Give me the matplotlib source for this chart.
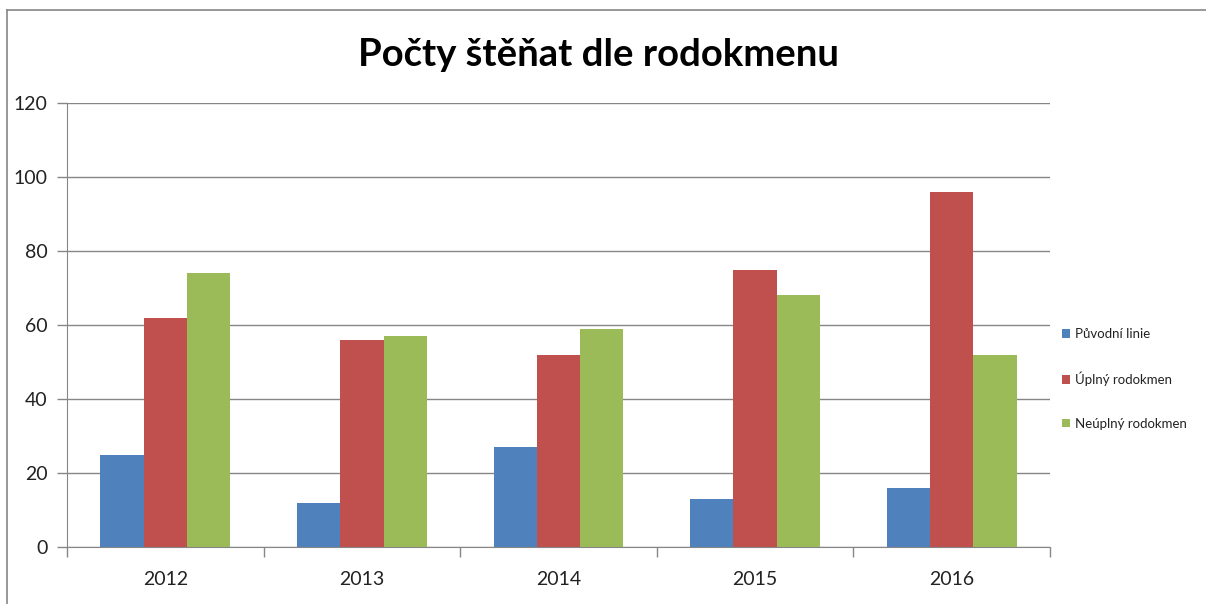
import matplotlib
matplotlib.use("Agg")
import matplotlib.pyplot as plt
import numpy as np
from matplotlib.lines import Line2D

years = ["2012", "2013", "2014", "2015", "2016"]
puvodni = [25, 12, 27, 13, 16]
uplny = [62, 56, 52, 75, 96]
neuplny = [74, 57, 59, 68, 52]
series_names = ["Původní linie", "Úplný rodokmen", "Neúplný rodokmen"]
colors = ["#4F81BD", "#C0504D", "#9BBB59"]
yticks = [0, 20, 40, 60, 80, 100, 120]

plt.rcParams['font.family'] = ['Lato', 'DejaVu Sans']

W, H = 1206, 604
fig = plt.figure(figsize=(W / 100, H / 100), dpi=100)
ax = fig.add_axes([67 / W, (H - 547) / H, (1050 - 67) / W, (547 - 103) / H])

x = np.arange(len(years))
bw = 0.22
for i, (vals, name, c) in enumerate(zip([puvodni, uplny, neuplny], series_names, colors)):
    ax.bar(x + (i - 1) * bw, vals, width=bw, color=c, label=name, zorder=3,
           edgecolor='none')

ax.set_xlim(-0.5, len(years) - 0.5)
ax.set_ylim(0, 120)
ax.set_yticks(yticks)
ax.set_yticklabels([str(v) for v in yticks], fontsize=14, color='#222222')
ax.set_xticks(x)
ax.set_xticklabels(years, fontsize=14, color='#222222')
ax.tick_params(axis='x', length=0, pad=17)
ax.tick_params(axis='y', length=7, color='#868686', width=1, pad=7)
# category boundary ticks
ax.set_xticks(np.arange(-0.5, len(years)), minor=True)
ax.tick_params(axis='x', which='minor', length=7, color='#868686', width=1, direction='out')

ax.grid(axis='y', color='#868686', linewidth=1, zorder=0)
for s in ['top', 'right']:
    ax.spines[s].set_visible(False)
ax.spines['left'].set_color('#868686')
ax.spines['bottom'].set_color('#868686')
ax.spines['left'].set_zorder(4)
ax.spines['bottom'].set_zorder(4)

fig.text(598 / W, 1 - 55 / H, "Počty štěňat dle rodokmenu", ha='center', va='center',
         fontsize=27.5, fontweight='bold', color='black')

leg = ax.legend(loc='center left', bbox_to_anchor=(1050 / W, 1 - 379 / H),
                bbox_transform=fig.transFigure, frameon=False, fontsize=9.5,
                handlelength=0.6, handleheight=0.6, handletextpad=0.4, labelspacing=2.4)
for t in leg.get_texts():
    t.set_color('#222222')

# outer chart border (partially visible)
fig.add_artist(Line2D([7 / W, 7 / W], [0, 1 - 10 / H], transform=fig.transFigure, color='#868686', lw=1.2))
fig.add_artist(Line2D([7 / W, 1], [1 - 10 / H, 1 - 10 / H], transform=fig.transFigure, color='#868686', lw=1.2))

fig.savefig("out.png", dpi=100)
